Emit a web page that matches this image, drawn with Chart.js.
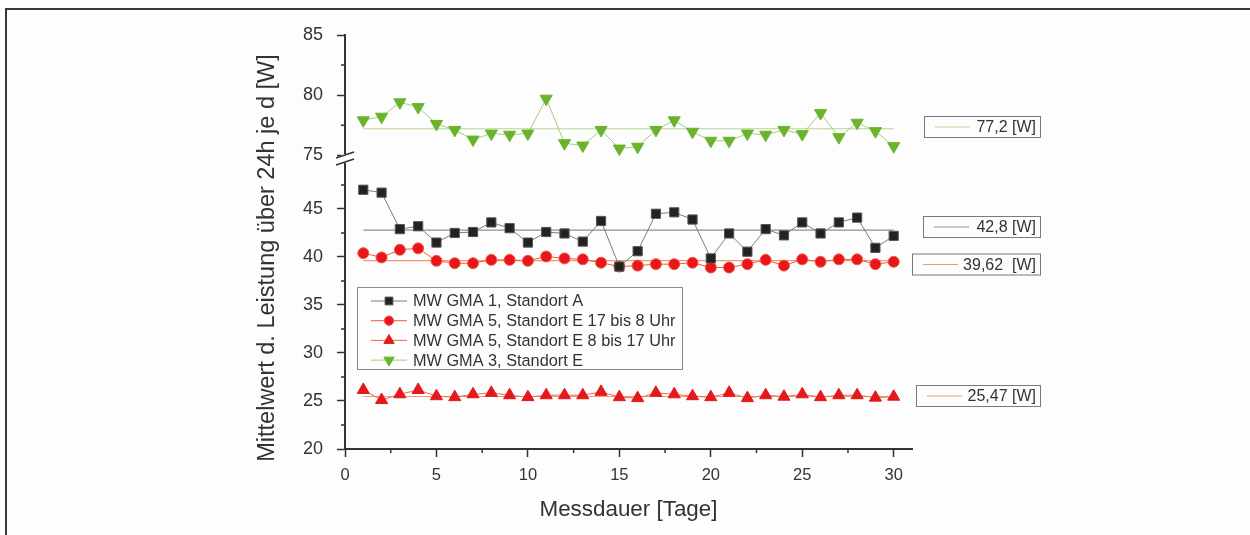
<!DOCTYPE html>
<html>
<head>
<meta charset="utf-8">
<script src="https://cdn.jsdelivr.net/npm/chart.js@4.4.1/dist/chart.umd.min.js"></script>
<style>
  html, body { margin: 0; padding: 0; background: #fff; }
  #wrap { position: relative; width: 1250px; height: 535px; overflow: hidden; background: #fdfdfd; }
  #frame { position: absolute; left: 5px; top: 8px; width: 1300px; height: 600px; border: 2px solid #3a3a3a; }
  canvas { position: absolute; left: 0; top: 0; }
</style>
</head>
<body>
<div id="wrap"><div id="frame"></div><canvas id="chart" width="1250" height="535"></canvas></div>
<script>
// Messtage
const days = [1, 2, 3, 4, 5, 6, 7, 8, 9, 10, 11, 12, 13, 14, 15, 16, 17, 18, 19, 20, 21, 22, 23, 24, 25, 26, 27, 28, 29, 30];

// Tagesmittelwerte [W]
const gma1 = [47.0, 46.7, 42.9, 43.2, 41.5, 42.5, 42.6, 43.6, 43.0, 41.5, 42.6, 42.45, 41.6, 43.75, 39.0, 40.6, 44.5, 44.65, 43.9, 39.85, 42.45, 40.55, 42.9, 42.25, 43.6, 42.45, 43.6, 44.1, 40.95, 42.2];
const gma5Night = [40.4, 39.95, 40.75, 40.9, 39.6, 39.35, 39.35, 39.7, 39.7, 39.6, 40.05, 39.85, 39.75, 39.4, 39.0, 39.1, 39.25, 39.25, 39.4, 38.9, 38.9, 39.25, 39.7, 39.1, 39.75, 39.5, 39.75, 39.75, 39.25, 39.5];
const gma5Day = [26.15, 25.1, 25.7, 26.15, 25.5, 25.4, 25.7, 25.85, 25.6, 25.4, 25.6, 25.6, 25.6, 25.95, 25.4, 25.3, 25.85, 25.7, 25.5, 25.4, 25.85, 25.3, 25.6, 25.45, 25.7, 25.4, 25.6, 25.6, 25.35, 25.45];
const gma3 = [77.9, 78.2, 79.4, 79.0, 77.6, 77.1, 76.3, 76.8, 76.7, 76.8, 79.7, 76.0, 75.8, 77.1, 75.55, 75.7, 77.1, 77.9, 76.95, 76.2, 76.2, 76.8, 76.7, 77.1, 76.75, 78.5, 76.5, 77.7, 77.0, 75.75];

const seriesNames = ['MW GMA 1, Standort A', 'MW GMA 5, Standort E 17 bis 8 Uhr', 'MW GMA 5, Standort E 8 bis 17 Uhr', 'MW GMA 3, Standort E'];
const seriesValues = [gma1, gma5Night, gma5Day, gma3];

// Mittelwerte über den gesamten Zeitraum
const means = [42.8, 39.62, 25.47, 77.2];
const meanLabels = ['42,8 [W]', '39,62  [W]', '25,47 [W]', '77,2 [W]'];

const xTicks = [0, 5, 10, 15, 20, 25, 30];
const yLowTicks = [20, 25, 30, 35, 40, 45];
const yTopTicks = [75, 80, 85];

const FONT = "'Liberation Sans', Arial, sans-serif";
const INK = '#333';
Chart.defaults.font.family = FONT;
Chart.defaults.color = INK;

const styles = [
  { axis: 'yLow', line: '#7c7c7c', fill: '#222', edge: '#555', shape: 'rect', r: 6.5, rot: 0, mean: '#8f8f8f' },
  { axis: 'yLow', line: '#ee5a3e', fill: '#e8161c', edge: '#ef5a40', shape: 'circle', r: 5.5, rot: 0, mean: '#f29878' },
  { axis: 'yLow', line: '#ee6a4c', fill: '#e3191c', edge: '#e3191c', shape: 'triangle', r: 7, rot: 0, mean: '#f29878' },
  { axis: 'yTop', line: '#a3cf7a', fill: '#6ab42c', edge: '#6ab42c', shape: 'triangle', r: 7, rot: 180, mean: '#b3d795' }
];

// Kasten-Positionen für die Mittelwert-Beschriftung rechts
const meanBoxes = [
  { left: 923, cy: 227 },
  { left: 912, cy: 264.5 },
  { left: 916, cy: 396 },
  { left: 924, cy: 127 }
];

const series = seriesValues.map((vals, i) => ({
  label: seriesNames[i],
  yAxisID: styles[i].axis,
  data: days.map((d, k) => ({ x: d, y: vals[k] })),
  borderColor: styles[i].line,
  borderWidth: 1,
  pointStyle: styles[i].shape,
  pointRotation: styles[i].rot,
  pointRadius: styles[i].r,
  pointBackgroundColor: styles[i].fill,
  pointBorderColor: styles[i].edge,
  pointBorderWidth: 1,
  tension: 0
}));

const meanLines = means.map((m, i) => ({
  label: meanLabels[i],
  yAxisID: styles[i].axis,
  data: [{ x: days[0], y: m }, { x: days[days.length - 1], y: m }],
  borderColor: styles[i].mean,
  borderWidth: 1.2,
  pointRadius: 0
}));

function setTicks(list) {
  return scale => { scale.ticks = list.map(v => ({ value: v })); };
}

const axisBase = {
  type: 'linear',
  border: { color: INK, width: 2 },
  grid: { drawOnChartArea: false, tickLength: 8, tickColor: INK, tickWidth: 1.5 }
};

const decor = {
  id: 'decor',
  afterDraw(chart) {
    const ctx = chart.ctx;
    const { x, yTop, yLow } = chart.scales;
    ctx.save();

    // Zwischenstriche
    ctx.strokeStyle = INK;
    ctx.lineWidth = 1.5;
    ctx.beginPath();
    [[yTop, yTopTicks], [yLow, yLowTicks]].forEach(([s, list]) => {
      list.forEach(v => {
        const m = v + 2.5;
        if (m > s.max) return;
        const py = s.getPixelForValue(m);
        ctx.moveTo(s.right - 4, py);
        ctx.lineTo(s.right, py);
      });
    });
    xTicks.forEach(v => {
      const m = v + 2.5;
      if (m > x.max) return;
      const px = x.getPixelForValue(m);
      ctx.moveTo(px, x.top);
      ctx.lineTo(px, x.top + 4);
    });
    ctx.stroke();

    // Achsenbruch
    const ax = yLow.right;
    const yb = yLow.top;
    ctx.fillStyle = '#fdfdfd';
    ctx.fillRect(ax - 4, yb - 6, 8, 9);
    ctx.beginPath();
    ctx.lineWidth = 1.5;
    ctx.moveTo(ax - 9, yb - 2);
    ctx.lineTo(ax + 9, yb - 8);
    ctx.moveTo(ax - 9, yb + 5);
    ctx.lineTo(ax + 9, yb - 1);
    ctx.stroke();

    // Legende
    const lx = 357, ly = 287, lw = 325, lh = 82;
    ctx.strokeStyle = '#8a8a8a';
    ctx.lineWidth = 1;
    ctx.strokeRect(lx + 0.5, ly + 0.5, lw, lh);
    ctx.font = '16.3px ' + FONT;
    ctx.textBaseline = 'middle';
    ctx.textAlign = 'left';
    seriesNames.forEach((name, i) => {
      const st = styles[i];
      const ry = ly + 14 + i * 19.7;
      ctx.strokeStyle = st.line;
      ctx.lineWidth = 1;
      ctx.beginPath();
      ctx.moveTo(371, ry);
      ctx.lineTo(407, ry);
      ctx.stroke();
      ctx.fillStyle = st.fill;
      ctx.strokeStyle = st.edge;
      Chart.helpers.drawPoint(ctx, { pointStyle: st.shape, rotation: st.rot, radius: st.r * 0.85, borderWidth: 1 }, 389, ry);
      ctx.fillStyle = INK;
      ctx.fillText(name, 413, ry + 1);
    });

    // Mittelwert-Kästen
    ctx.font = '16px ' + FONT;
    meanLabels.forEach((txt, i) => {
      const b = meanBoxes[i];
      const st = styles[i];
      ctx.strokeStyle = '#7a7a7a';
      ctx.lineWidth = 1;
      ctx.strokeRect(b.left + 0.5, b.cy - 10.5, 1040 - b.left, 21);
      ctx.strokeStyle = st.mean;
      ctx.lineWidth = 1.2;
      ctx.beginPath();
      ctx.moveTo(b.left + 11, b.cy);
      ctx.lineTo(b.left + 46, b.cy);
      ctx.stroke();
      ctx.fillStyle = INK;
      ctx.textAlign = 'right';
      ctx.fillText(txt, 1036, b.cy + 1);
    });

    // Achsentitel y
    ctx.translate(268, 258);
    ctx.rotate(-Math.PI / 2);
    ctx.textAlign = 'center';
    ctx.font = '23.5px ' + FONT;
    ctx.fillText('Mittelwert d. Leistung über 24h je d [W]', 0, 0);
    ctx.restore();
  }
};

new Chart(document.getElementById('chart'), {
  type: 'line',
  data: { datasets: series.concat(meanLines) },
  options: {
    responsive: false,
    animation: false,
    layout: { padding: { left: 285, right: 338, top: 35, bottom: 0 } },
    plugins: { legend: { display: false }, tooltip: { enabled: false } },
    scales: {
      x: Object.assign({}, axisBase, {
        min: 0, max: 31,
        afterBuildTicks: setTicks(xTicks),
        afterFit: s => { s.height = 86; },
        ticks: { font: { size: 16.5 }, color: INK, padding: 9 },
        title: { display: true, text: 'Messdauer [Tage]', font: { size: 22.4 }, color: INK, padding: { top: 0, bottom: 12 } }
      }),
      yTop: Object.assign({}, axisBase, {
        position: 'left', stack: 'y', stackWeight: 125, weight: 2,
        min: 74.6, max: 85,
        afterBuildTicks: setTicks(yTopTicks),
        afterFit: s => { s.width = 60; },
        ticks: { font: { size: 18 }, color: INK, padding: 14 }
      }),
      yLow: Object.assign({}, axisBase, {
        position: 'left', stack: 'y', stackWeight: 289, weight: 1,
        min: 20, max: 50.1,
        afterBuildTicks: setTicks(yLowTicks),
        afterFit: s => { s.width = 60; },
        ticks: { font: { size: 18 }, color: INK, padding: 14 }
      })
    }
  },
  plugins: [decor]
});
</script>
</body>
</html>
